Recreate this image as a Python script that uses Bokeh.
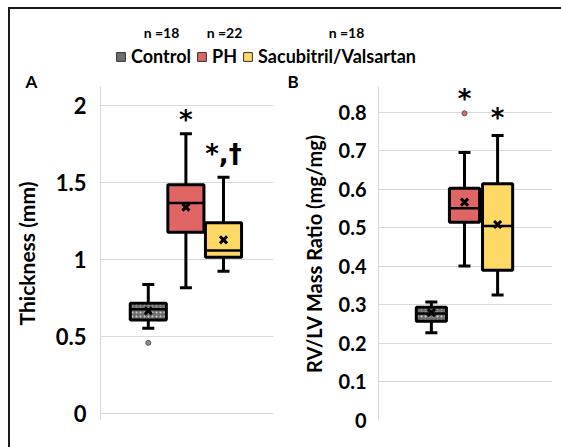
import numpy as np
from bokeh.plotting import figure
from bokeh.models import Range1d, Label, Legend, LegendItem, FixedTicker
from bokeh.layouts import column, row
from bokeh.embed import file_html
from bokeh.resources import INLINE
from bokeh.core.properties import value

# ---------------- data ----------------
groups = ["Control", "PH", "Sacubitril/Valsartan"]
n_labels = ["n =18", "n =22", "n =18"]
colors = ["#6e6e6e", "#e06666", "#ffd966"]
positions = [1, 2, 3]

# Panel A: Thickness (mm)
A_lower = [0.552, 0.814, 0.922]
A_q1 = [0.606, 1.175, 1.013]
A_median = [0.675, 1.364, 1.056]
A_q3 = [0.714, 1.483, 1.236]
A_upper = [0.836, 1.814, 1.532]
A_mean = [0.665, 1.338, 1.126]
A_out_group = [0]
A_out_val = [0.457]
A_ticks = [0, 0.5, 1, 1.5, 2]
A_tick_labels = ["0", "0.5", "1", "1.5", "2"]
A_sig = ["", "*", "*,\u2020"]
A_sig_y = [0, 1.905, 1.68]

# Panel B: RV/LV Mass Ratio (mg/mg)
B_lower = [0.228, 0.401, 0.326]
B_q1 = [0.258, 0.515, 0.390]
B_median = [0.278, 0.551, 0.505]
B_q3 = [0.294, 0.603, 0.615]
B_upper = [0.308, 0.696, 0.740]
B_mean = [0.280, 0.567, 0.509]
B_out_group = [1]
B_out_val = [0.798]
B_ticks = [0, 0.1, 0.2, 0.3, 0.4, 0.5, 0.6, 0.7, 0.8]
B_tick_labels = ["0", "0.1", "0.2", "0.3", "0.4", "0.5", "0.6", "0.7", "0.8"]
B_sig = ["", "*", "*"]
B_sig_y = [0, 0.835, 0.786]

FONT = "Lato"
GRID = "#d9d9d9"


def make_panel(width, height, xr, yr, borders, lower, q1, med, q3, upper, mean,
               out_g, out_v, out_color, ticks, tick_labels, ylabel, label_size,
               tick_size, box_w, sig, sig_y, letter, letter_offset, letter_standoff,
               tick_standoff, label_standoff):
    p = figure(width=width, height=height, x_range=Range1d(*xr), y_range=Range1d(*yr),
               x_axis_location=None, toolbar_location=None, output_backend="svg",
               min_border_left=borders[0], min_border_right=borders[1],
               min_border_top=borders[2], min_border_bottom=borders[3],
               outline_line_color=None, title=letter)
    p.title.align = "left"
    p.title.offset = letter_offset
    p.title.standoff = letter_standoff
    p.title.text_font = FONT
    p.title.text_font_style = "bold"
    p.title.text_font_size = "17px"
    p.title.text_color = "black"
    p.xgrid.visible = False
    p.ygrid.grid_line_color = GRID
    p.ygrid.grid_line_width = 1
    p.ygrid.ticker = FixedTicker(ticks=ticks)
    ax = p.yaxis[0]
    ax.ticker = FixedTicker(ticks=ticks)
    ax.major_label_overrides = {t: l for t, l in zip(ticks, tick_labels)}
    ax.axis_line_color = GRID
    ax.major_tick_line_color = None
    ax.minor_tick_line_color = None
    ax.major_label_text_font = FONT
    ax.major_label_text_font_style = "bold"
    ax.major_label_text_font_size = tick_size
    ax.major_label_text_color = "black"
    ax.major_label_standoff = tick_standoff
    ax.axis_label = ylabel
    ax.axis_label_text_font = FONT
    ax.axis_label_text_font_style = "bold"
    ax.axis_label_text_font_size = label_size
    ax.axis_label_text_color = "black"
    ax.axis_label_standoff = label_standoff

    x = np.array(positions, dtype=float)
    # whisker stems
    p.segment(x0=x, y0=q3, x1=x, y1=upper, line_color="black", line_width=3)
    p.segment(x0=x, y0=q1, x1=x, y1=lower, line_color="black", line_width=3)
    p.scatter(x=x, y=upper, marker="dash", size=12, line_color="black", line_width=3)
    p.scatter(x=x, y=lower, marker="dash", size=12, line_color="black", line_width=3)
    # boxes
    for i in range(3):
        kw = {}
        if i == 0:
            kw = dict(hatch_pattern="dot", hatch_color="#cfcfcf", hatch_scale=4, hatch_weight=1.2)
        p.vbar(x=[x[i]], width=box_w, top=[q3[i]], bottom=[q1[i]], fill_color=colors[i],
               line_color="black", line_width=3, **kw)
    # medians
    p.segment(x0=x - box_w / 2, y0=med, x1=x + box_w / 2, y1=med, line_color="black", line_width=2.5)
    # means
    p.scatter(x=x, y=mean, marker="x", size=10, line_color="black", line_width=3)
    # outliers
    p.scatter(x=[positions[g] for g in out_g], y=out_v, marker="circle", size=5,
              fill_color=out_color, line_color="#555555", line_width=1)
    # significance marks
    p.text(x=x, y=sig_y, text=sig, text_font=value("DejaVu Sans"), text_font_style="bold",
           text_font_size="26px", text_align="center", text_baseline="middle", text_color="black")
    return p


# both frames share top (y=86) and bottom (y=420) edges on the page
pA = make_panel(273, 377, (-0.271, 4.33), (-0.047, 2.121), (90, 10, 16, 27),
                A_lower, A_q1, A_median, A_q3, A_upper, A_mean,
                A_out_group, A_out_val, "#8c8c8c", A_ticks, A_tick_labels,
                "Thickness (mm)", "21px", "22px", 0.96, A_sig, A_sig_y, "A", -75, -11, 8, 14)

pB = make_panel(278, 377, (-0.597, 4.658), (0, 0.8675), (95, 9, 16, 27),
                B_lower, B_q1, B_median, B_q3, B_upper, B_mean,
                B_out_group, B_out_val, "#e06666", B_ticks, B_tick_labels,
                "RV/LV Mass Ratio (mg/mg)", "20px", "20px", 0.91, B_sig, B_sig_y, "B", -91, -11, 6, 10)

# ---------------- header with legend ----------------
head = figure(width=551, height=61, x_range=Range1d(0, 551), y_range=Range1d(0, 61),
              x_axis_location=None, y_axis_location=None, toolbar_location=None,
              output_backend="svg", min_border=0, outline_line_color=None)
head.grid.visible = False
items = []
for g, c in zip(groups, colors):
    r = head.vbar(x=[-1000], top=[-1000], bottom=[-1001], width=1, fill_color=c,
                  line_color="#333333", line_width=1)
    items.append(LegendItem(label=g, renderers=[r]))
leg = Legend(items=items, orientation="horizontal", location=(105, 1), padding=0, margin=0,
             spacing=5, label_standoff=5, glyph_width=11, glyph_height=11, label_height=26,
             label_text_font=FONT, label_text_font_style="bold", label_text_font_size="18px",
             label_text_color="black", border_line_alpha=0, background_fill_alpha=0)
head.add_layout(leg)
for nl, cx in zip(n_labels, [151, 214, 336]):
    head.add_layout(Label(x=cx, y=38, x_units="screen", y_units="screen", text=nl,
                          text_align="center", text_baseline="middle", text_font=FONT,
                          text_font_style="bold", text_font_size="14px", text_color="black"))

layout = column(head, row(pA, pB), margin=(7, 0, 0, 8),
                styles={"border-left": "2px solid #1a1a1a", "border-top": "2px solid #1a1a1a"})

open("out.html", "w").write(file_html(layout, INLINE))
